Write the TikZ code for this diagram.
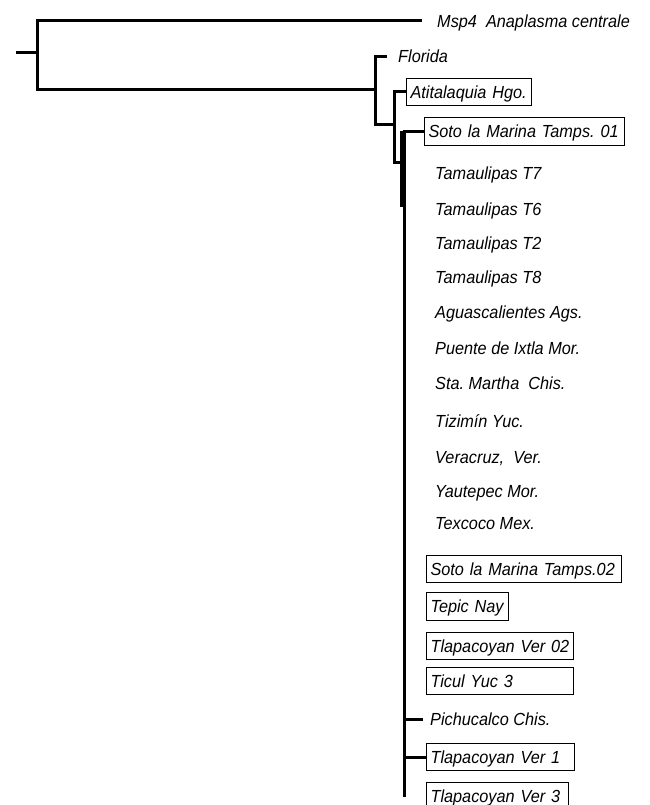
\documentclass[tikz,border=0pt]{standalone}
\usepackage{fontspec}
\setmainfont[FakeStretch=0.93]{Liberation Sans}
\frenchspacing
\begin{document}
\begin{tikzpicture}[x=1pt,y=-1pt,
	branch/.style={line width=3pt,black},
	site/.style={anchor=west,inner xsep=4pt,text height=13pt,text depth=0.5pt,font=\itshape\fontsize{17.5}{20}\selectfont},
	sitebox/.style={site,draw,line width=1.1pt,text width=#1,align=left,inner ysep=7pt}]
	
	\useasboundingbox (0,0) rectangle (649,805);
	
	\coordinate (r) at (16,53);
	\coordinate (n0) at (37,53);
	\coordinate (n1) at (375,90);
	\coordinate (n2) at (394,125);
	\coordinate (n3) at (404,163);
	\coordinate (m) at (401.5,207);
	\coordinate (end) at (404,797);
	
	\node[site] (msp) at (433,21){Msp4\ \ Anaplasma centrale};
	\node[site] (flo) at (394,56.5){Florida};
	\node[sitebox=117] (ati) at (406,92){Atitalaquia Hgo.};
	\node[sitebox=192] (soto1) at (424,131.5){Soto la Marina Tamps. 01};
	\node[site] (t7) at (431,173){Tamaulipas T7};
	\node[site] (t6) at (431,209.7){Tamaulipas T6};
	\node[site] (t2) at (431,243){Tamaulipas T2};
	\node[site] (t8) at (431,277){Tamaulipas T8};
	\node[site] (ags) at (431,312){Aguascalientes Ags.};
	\node[site] (pte) at (431,348.7){Puente de Ixtla Mor.};
	\node[site] (sta) at (431,383){Sta. Martha\ \ Chis.};
	\node[site] (tiz) at (431,421.3){Tizimín Yuc.};
	\node[site] (ver) at (431,457){Veracruz,\ \ Ver.};
	\node[site] (yau) at (431,491.3){Yautepec Mor.};
	\node[site] (tex) at (431,523.7){Texcoco Mex.};
	\node[sitebox=187] (soto2) at (426,569){Soto la Marina Tamps.02};
	\node[sitebox=74] (tep) at (426,606.5){Tepic Nay};
	\node[sitebox=139] (tl02) at (426,646){Tlapacoyan Ver 02};
	\node[sitebox=139] (tic) at (426,681){Ticul Yuc 3};
	\node[site] (pich) at (426,719.5){Pichucalco Chis.};
	\node[sitebox=140] (tl1) at (426,757){Tlapacoyan Ver 1};
	\node[sitebox=134] (tl3) at (426,796.5){Tlapacoyan Ver 3};
	
	\draw[branch](r)--(n0);
	\draw[branch]([xshift=-11pt]msp.west)-|(n0)|-(n1);
	\draw[branch]([xshift=-7pt]flo.west)-|(n1)|-(n2);
	\draw[branch](ati.west)-|(n2)|-(n3);
	\draw[branch](soto1.west)-|(n3)--(end);
	\draw[branch](m|-soto1.west)--(m);
	\draw[branch]([xshift=-3pt]pich.west)--(pich.west-|n3);
	\draw[branch](tl1.west)--(tl1.west-|n3);
\end{tikzpicture}
\end{document}
